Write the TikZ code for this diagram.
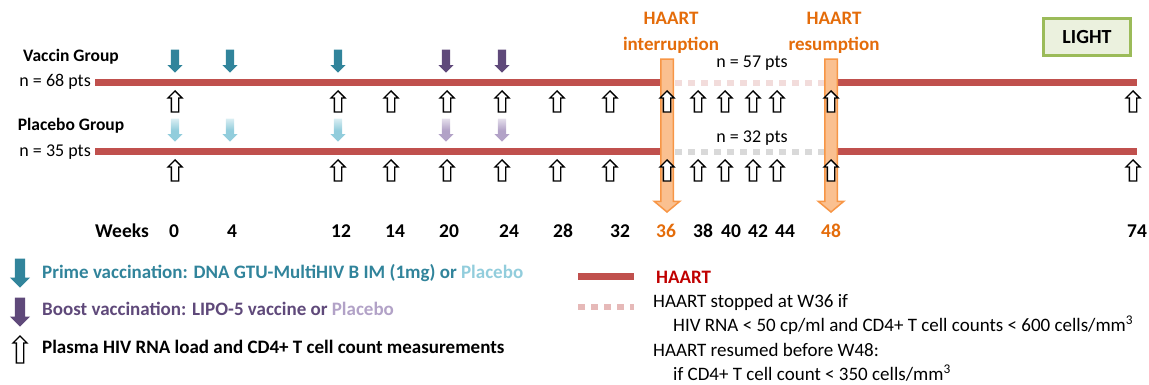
\documentclass[tikz,border=0pt]{standalone}
\usepackage{fontspec}
\setmainfont{Carlito}
\usepackage{xcolor}
\usepackage{tikz}
\usetikzlibrary{arrows.meta,positioning,shapes.arrows}

\definecolor{primeteal}{HTML}{31849B}
\definecolor{primelight}{HTML}{92CDDC}
\definecolor{boostpurple}{HTML}{5F497A}
\definecolor{boostlight}{HTML}{B2A2C7}
\definecolor{haartred}{HTML}{C0504D}
\definecolor{haarttext}{HTML}{C00000}
\definecolor{stoppink}{HTML}{E6B9B8}
\definecolor{stoppale}{HTML}{F2DCDB}
\definecolor{stopgrey}{HTML}{D9D9D9}
\definecolor{orangetext}{HTML}{E46C0A}
\definecolor{orangefill}{HTML}{FAC090}
\definecolor{orangeline}{HTML}{F79646}
\definecolor{lightfill}{HTML}{EBF1DE}
\definecolor{lightline}{HTML}{9BBB59}

\begin{document}
\begin{tikzpicture}[
  x=1pt, y=-1pt,
  every node/.style={inner sep=0pt, font=\fontsize{18}{22}\selectfont},
  vacc/.style={single arrow, shape border rotate=270, anchor=tip, minimum height=23pt, inner sep=4pt, single arrow head extend=3.5pt},
  fadedvacc/.style={vacc, top color=#1!35, bottom color=#1, middle color=#1},
  keyvacc/.style={vacc, minimum height=29pt, inner sep=5pt, single arrow head extend=5pt},
  meas/.style={single arrow, shape border rotate=90, anchor=tip, draw=black, fill=white, line width=1.3pt, minimum height=21pt, inner sep=3pt, single arrow head extend=3.5pt},
  haartbar/.style={single arrow, shape border rotate=270, anchor=tip, draw=orangeline, fill=orangefill, line width=1.5pt, minimum height=153pt, inner sep=5.5pt, single arrow head extend=6.5pt, single arrow tip angle=100},
  haart/.style={haartred, line width=7pt},
  stopped/.style={line width=6.5pt, dash pattern=on 7pt off 6pt},
  lbl/.style={font=\fontsize{17.5}{22}\selectfont\bfseries},
  wk/.style={anchor=base, font=\fontsize{19.5}{23}\selectfont\bfseries},
  keylbl/.style={font=\fontsize{19}{23}\selectfont\bfseries, anchor=base west},
  phase/.style={orangetext, align=center, anchor=north, font=\fontsize{19}{26}\selectfont\bfseries},
  keytext/.style={anchor=base west, font=\fontsize{19}{23}\selectfont}
]
\useasboundingbox (0,0) rectangle (1149,385);

% Group lines (HAART, then stop and resumption)
\coordinate (vstart) at (95,83);
\coordinate (vstop) at (660,83);
\coordinate (vgap) at (675,83);
\coordinate (vresume) at (826,83);
\coordinate (vback) at (838,83);
\coordinate (vend) at (1137,83);
\coordinate (pstart) at (95,152);
\coordinate (pstop) at (660,152);
\coordinate (pgap) at (675,152);
\coordinate (presume) at (826,152);
\coordinate (pback) at (838,152);
\coordinate (pend) at (1137,152);

\draw[haart] (vstart) -- (vstop);
\draw[stopped, stoppale] (vgap) -- (vresume);
\draw[haart] (vback) -- (vend);
\draw[haart] (pstart) -- (pstop);
\draw[stopped, stopgrey] (pgap) -- (presume);
\draw[haart] (pback) -- (pend);

% HAART interruption and resumption
\node[haartbar] (stopbar) at (667,213) {};
\node[haartbar] (resumebar) at (831,213) {};
\node[phase] (stophead) at (671,12) {HAART\\interruption};
\node[phase] (resumehead) at (834,12) {HAART\\resumption};
\node[anchor=base] (n57) at (752,68) {n = 57 pts};
\node[anchor=base] (n32) at (752,143) {n = 32 pts};

% Measurements
\foreach \w/\x in {0/175,12/338,14/391,20/447,24/502,28/557,32/610,36/667,38/698,40/725,42/753,44/777,48/831,74/1133} {
  \node[meas] (mv\w) at (\x,90) {};
  \node[meas] (mp\w) at (\x,159) {};
}

% Vaccinations
\foreach \w/\x in {0/175,4/230,12/338} {
  \node[vacc, fill=primeteal] (pv\w) at (\x,73) {};
  \node[fadedvacc=primelight] (pp\w) at (\x,142) {};
}
\foreach \w/\x in {20/446,24/502} {
  \node[vacc, fill=boostpurple] (bv\w) at (\x,73) {};
  \node[fadedvacc=boostlight] (bp\w) at (\x,142) {};
}

% Groups
\node[lbl, anchor=base] (vaccin) at (71,62) {Vaccin Group};
\node[anchor=base east] (nvaccin) at (91,87) {n = 68 pts};
\node[lbl, anchor=base] (placebo) at (71,131) {Placebo Group};
\node[anchor=base east] (nplacebo) at (91,157) {n = 35 pts};

\node[draw=lightline, fill=lightfill, line width=2.5pt, minimum width=87pt, minimum height=37pt, font=\fontsize{20}{24}\selectfont\bfseries] (light) at (1087,37) {LIGHT};

% Weeks
\node[wk] (weeks) at (122,237) {Weeks};
\foreach \w/\x in {0/174,4/232,12/341,14/395,20/449,24/509,28/563,32/620,38/703,40/731,42/758,44/785,74/1137}
  \node[wk] (w\w) at (\x,237) {\w};
\node[wk, orangetext] (w36) at (666,237) {36};
\node[wk, orangetext] (w48) at (831,237) {48};

% Legend
\node[keyvacc, fill=primeteal] (keyprime) at (20,288) {};
\node[keylbl, primeteal] (primetxt) at (42,278) {Prime vaccination: DNA GTU-MultiHIV B IM (1mg) or \textcolor{primelight}{Placebo}};
\node[keyvacc, fill=boostpurple] (keyboost) at (20,327) {};
\node[keylbl, boostpurple] (boosttxt) at (42,315) {Boost vaccination: LIPO-5 vaccine or \textcolor{boostlight}{Placebo}};
\node[meas, minimum height=27pt] (keymeas) at (20,335) {};
\node[keylbl] (meastxt) at (42,353) {Plasma HIV RNA load and CD4+ T cell count measurements};

\coordinate (keyhaartA) at (578,276);
\coordinate (keyhaartB) at (634,276);
\draw[haart] (keyhaartA) -- (keyhaartB);
\node[keylbl, haarttext] (haarttxt) at (656,283) {HAART};
\coordinate (keystopA) at (578,307);
\coordinate (keystopB) at (634,307);
\draw[stopped, stoppink] (keystopA) -- (keystopB);
\node[keytext] (stoptxt) at (653,307) {HAART stopped at W36 if};
\node[keytext] (stopcond) at (673,331) {HIV RNA < 50 cp/ml and CD4+ T cell counts < 600 cells/mm\textsuperscript{3}};
\node[keytext] (resumetxt) at (653,356) {HAART resumed before W48:};
\node[keytext] (resumecond) at (673,380) {if CD4+ T cell count < 350 cells/mm\textsuperscript{3}};
\end{tikzpicture}
\end{document}
